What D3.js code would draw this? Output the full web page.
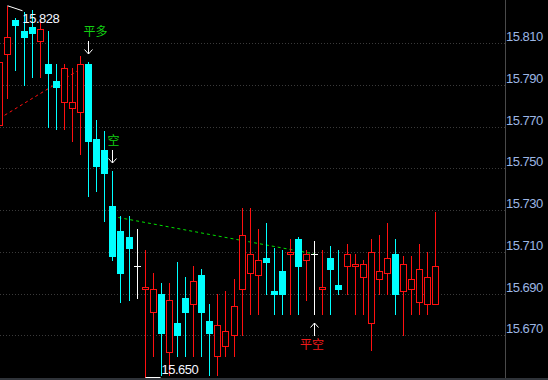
<!DOCTYPE html>
<html>
<head>
<meta charset="utf-8">
<script src="https://cdn.jsdelivr.net/npm/d3@7"></script>
<style>
  html, body { margin: 0; padding: 0; background: #000; }
  svg { display: block; }
</style>
</head>
<body>
<div id="chart-area"></div>
<script>
// candle values, left to right
var opens = [15.771,15.805,15.821,15.816,15.818,15.811,15.800,15.792,15.782,15.779,
  15.777,15.800,15.764,15.759,15.732,15.720,15.717,15.703,15.692,15.681,
  15.690,15.662,15.676,15.688,15.685,15.699,15.677,15.660,15.665,15.670,
  15.692,15.700,15.699,15.707,15.691,15.701,15.709,15.716,15.706,15.709,
  15.692,15.707,15.694,15.703,15.703,15.698,15.676,15.697,15.700,15.709,
  15.691,15.692,15.686,15.685,15.685];
var highs = [15.802,15.828,15.822,15.825,15.826,15.821,15.816,15.800,15.800,15.798,
  15.804,15.801,15.773,15.768,15.749,15.727,15.727,15.721,15.711,15.700,
  15.695,15.695,15.705,15.698,15.703,15.702,15.685,15.690,15.691,15.697,
  15.731,15.731,15.721,15.724,15.712,15.711,15.716,15.717,15.711,15.715,
  15.711,15.713,15.711,15.714,15.709,15.706,15.716,15.718,15.724,15.716,
  15.708,15.708,15.714,15.710,15.729];
var lows = [15.769,15.784,15.797,15.790,15.794,15.794,15.770,15.769,15.769,15.763,
  15.757,15.737,15.739,15.725,15.706,15.686,15.687,15.688,15.650,15.660,
  15.651,15.651,15.660,15.660,15.660,15.660,15.651,15.651,15.660,15.660,
  15.670,15.680,15.680,15.690,15.680,15.680,15.680,15.680,15.687,15.680,
  15.680,15.680,15.690,15.690,15.680,15.680,15.663,15.690,15.690,15.680,
  15.670,15.680,15.680,15.680,15.685];
var closes = [15.801,15.813,15.819,15.813,15.815,15.817,15.796,15.789,15.798,15.782,
  15.800,15.763,15.751,15.748,15.708,15.700,15.712,15.703,15.693,15.692,
  15.671,15.687,15.670,15.681,15.696,15.681,15.671,15.675,15.672,15.684,
  15.718,15.709,15.706,15.705,15.690,15.690,15.710,15.703,15.709,15.709,
  15.693,15.702,15.692,15.709,15.704,15.704,15.710,15.701,15.707,15.690,
  15.704,15.697,15.702,15.698,15.703];

var yTicks = [15.670,15.690,15.710,15.730,15.750,15.770,15.790,15.810];

// trade signals
var sigIdx = [11, 14, 39];
var sigText = ["平多", "空", "平空"];
var sigSide = ["top", "top", "bottom"];

// dashed trend lines [candle index, price]
var redLine = [[0, 15.774], [11, 15.800]];
var greenLine = [[14, 15.727], [39, 15.709]];

var W = 548, H = 380, axisX = 505;

var svg = d3.select("#chart-area").append("svg")
  .attr("width", W).attr("height", H)
  .style("background", "#000");

var n = opens.length;
var x = d3.scaleLinear().domain([0, n - 1]).range([-0.15, 435.9]);
var y = d3.scaleLinear().domain([15.670, 15.810]).range([335.3, 43.3]);

function col(i) { return Math.floor(x(i)); }
function py(v) { return Math.round(y(v)); }

// grid
svg.append("g").selectAll("line")
  .data(yTicks).enter().append("line")
    .attr("x1", 0).attr("x2", axisX)
    .attr("y1", function(d){ return py(d) + 0.5; })
    .attr("y2", function(d){ return py(d) + 0.5; })
    .attr("stroke", "#3a3a3a")
    .attr("stroke-dasharray", "1,2");

// right axis
var yAxis = d3.axisRight(y).tickValues(yTicks).tickSize(0).tickPadding(1)
  .tickFormat(d3.format(".3f"));
var ga = svg.append("g").attr("transform", "translate(" + axisX + ",0)").call(yAxis);
ga.select(".domain").remove();
ga.selectAll("text")
  .attr("dy", "-0.19em")
  .attr("fill", "#9cb6e4")
  .attr("font-family", "Liberation Sans, Arial, sans-serif")
  .attr("font-size", "13px")
  .attr("letter-spacing", "-0.5px");

svg.append("rect").attr("x", axisX).attr("y", 0).attr("width", 1).attr("height", H)
  .attr("fill", "#4a4a4a");
svg.append("rect").attr("x", 0).attr("y", 378).attr("width", W).attr("height", 2)
  .attr("fill", "#2f3339");

// dashed lines
var lineGen = d3.line()
  .x(function(d){ return col(d[0]) + 0.5; })
  .y(function(d){ return y(d[1]); });
svg.append("path").datum(redLine).attr("d", lineGen)
  .attr("stroke", "#ff1010").attr("stroke-width", 1).attr("fill", "none")
  .attr("stroke-dasharray", "3,3");
svg.append("path").datum(greenLine).attr("d", lineGen)
  .attr("stroke", "#00e000").attr("stroke-width", 1).attr("fill", "none")
  .attr("stroke-dasharray", "3,3");

// candles
var idx = d3.range(n);
function kind(i) {
  if (closes[i] > opens[i]) return "up";
  if (closes[i] < opens[i]) return "down";
  return "flat";
}
var colorOf = { up: "#ff1010", down: "#00ffff", flat: "#ffffff" };

var cg = svg.append("g").attr("shape-rendering", "crispEdges");

cg.selectAll(".wick").data(idx).enter().append("rect")
  .attr("class", "wick")
  .attr("x", function(i){ return col(i); })
  .attr("y", function(i){ return py(highs[i]); })
  .attr("width", 1)
  .attr("height", function(i){ return py(lows[i]) - py(highs[i]) + 1; })
  .attr("fill", function(i){ return colorOf[kind(i)]; });

cg.selectAll(".body").data(idx).enter().append("rect")
  .attr("class", "body")
  .each(function(i){
    var k = kind(i), s = d3.select(this);
    var top = py(Math.max(opens[i], closes[i]));
    var bot = py(Math.min(opens[i], closes[i]));
    if (k === "up") {
      s.attr("x", col(i) - 2.5).attr("y", top + 0.5)
        .attr("width", 6).attr("height", Math.max(bot - top, 1))
        .attr("fill", "#000").attr("stroke", colorOf.up).attr("stroke-width", 1);
    } else {
      s.attr("x", col(i) - 3).attr("y", top)
        .attr("width", 7).attr("height", Math.max(bot - top + 1, 1))
        .attr("fill", colorOf[k]);
    }
  });

// high / low markers
var hiI = d3.maxIndex(highs), loI = d3.minIndex(lows);
var hx = col(hiI) + 0.5, hy = y(highs[hiI]);
svg.append("line").attr("x1", hx).attr("y1", hy).attr("x2", hx + 15).attr("y2", hy + 5)
  .attr("stroke", "#fff");
svg.append("text").attr("x", hx + 15).attr("y", hy + 13)
  .attr("dy", "0.36em")
  .attr("fill", "#f4f6ff")
  .attr("font-family", "Liberation Sans, Arial, sans-serif")
  .attr("font-size", "13px").attr("letter-spacing", "-0.5px")
  .text(highs[hiI].toFixed(3));

var lx = col(loI) + 0.5, ly = py(lows[loI]) + 0.5;
svg.append("line").attr("x1", lx).attr("y1", ly).attr("x2", lx + 15).attr("y2", ly)
  .attr("stroke", "#fff");
svg.append("text").attr("x", lx + 16).attr("y", ly - 8.5)
  .attr("dy", "0.36em")
  .attr("fill", "#f4f6ff")
  .attr("font-family", "Liberation Sans, Arial, sans-serif")
  .attr("font-size", "13px").attr("letter-spacing", "-0.5px")
  .text(lows[loI].toFixed(3));

// signal arrows and labels
sigIdx.forEach(function(i, j){
  var ax = col(i) + 0.5;
  var g = svg.append("g");
  var tip, tail, head, ty, tcol;
  if (sigSide[j] === "top") {
    tip = py(highs[i]) - 8; tail = tip - 13; head = tip - 4.5; ty = tip - 22;
  } else {
    tip = py(lows[i]) + 9; tail = tip + 13; head = tip + 4.5; ty = tip + 22;
  }
  tcol = sigText[j].indexOf("平空") === 0 ? "#ee1a1a" : "#12d012";
  g.append("line").attr("x1", ax).attr("x2", ax).attr("y1", tail).attr("y2", tip)
    .attr("stroke", "#fff");
  g.append("path")
    .attr("d", "M" + (ax - 4) + "," + head + "L" + ax + "," + tip + "L" + (ax + 4) + "," + head)
    .attr("stroke", "#fff").attr("fill", "none");
  g.append("text")
    .attr("x", sigSide[j] === "top" ? ax - 5 : ax - 2.6)
    .attr("y", ty)
    .attr("dy", "0.36em")
    .attr("text-anchor", sigSide[j] === "top" ? "start" : "middle")
    .attr("fill", tcol)
    .attr("font-family", "Noto Sans CJK SC")
    .attr("font-size", "12px")
    .text(sigText[j]);
});
</script>
</body>
</html>
